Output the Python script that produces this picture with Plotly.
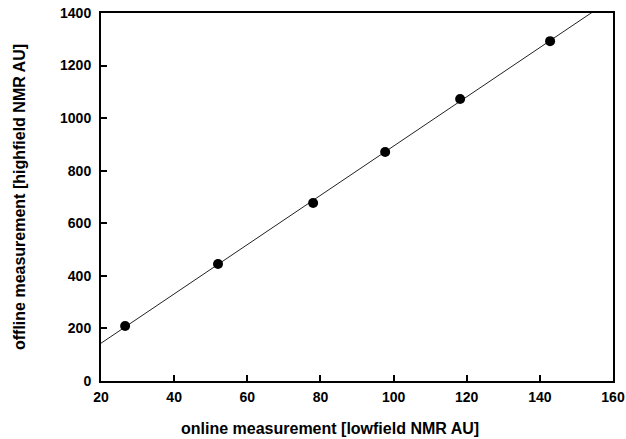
import numpy as np
import plotly.graph_objects as go

online = [26.6, 52.0, 78.0, 97.7, 118.2, 142.8]
offline = [209, 445, 677, 871, 1073, 1293]
x_ticks = [20, 40, 60, 80, 100, 120, 140, 160]
y_ticks = [0, 200, 400, 600, 800, 1000, 1200, 1400]

slope, intercept = np.polyfit(online, offline, 1)
fit_x = [20, 160]
fit_y = [slope * v + intercept for v in fit_x]

fig = go.Figure()
fig.add_trace(go.Scatter(x=fit_x, y=fit_y, mode="lines",
                         line=dict(color="#222222", width=1), showlegend=False))
fig.add_trace(go.Scatter(x=online, y=offline, mode="markers",
                         marker=dict(color="black", size=10), showlegend=False))

font = "Liberation Sans, Arial, sans-serif"
axis_common = dict(showgrid=False, zeroline=False, showline=True, linecolor="black",
                   linewidth=2, mirror=True, ticks="inside", ticklen=6, tickwidth=1.5,
                   tickcolor="black", automargin=False,
                   tickfont=dict(family=font, size=14, color="black", weight="bold"))
fig.update_xaxes(range=[20, 160], tickvals=x_ticks, ticklabelstandoff=2, **axis_common)
fig.update_yaxes(range=[0, 1400], tickvals=y_ticks, ticklabelstandoff=5,
                 title=dict(text="<b>offline measurement [highfield NMR AU]</b>",
                            font=dict(family=font, size=16, color="black"), standoff=30),
                 **axis_common)
fig.add_annotation(text="<b>online measurement [lowfield NMR AU]</b>",
                   xref="paper", yref="paper", x=(330 - 101) / 512, y=-47 / 368,
                   xanchor="center", yanchor="middle", showarrow=False,
                   font=dict(family=font, size=16, color="black"))
fig.update_layout(width=626, height=439, margin=dict(l=101, r=13, t=13, b=58),
                  plot_bgcolor="white", paper_bgcolor="white")
fig.write_html("out.html")
